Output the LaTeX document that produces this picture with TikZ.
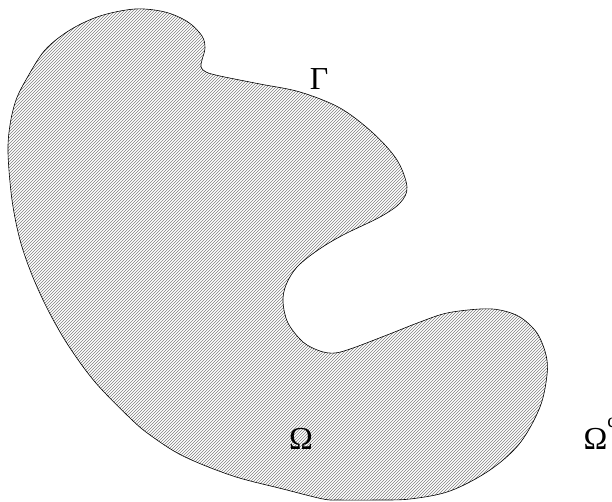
\documentclass[tikz,border=0pt]{standalone}
\usepackage{fontspec}
\setmainfont{Liberation Serif}
\usetikzlibrary{patterns}
\begin{document}
\begin{tikzpicture}[x=1pt,y=-1pt,
  region/.style={draw=black, line width=0.6pt, pattern=north east lines, pattern color=black!50},
  lbl/.style={inner sep=0pt, font=\fontsize{32}{32}\selectfont}]
\useasboundingbox (0,0) rectangle (612,501);
\draw[region] plot[smooth cycle, tension=0.55] coordinates {
  (135,9) (165,12) (188,22) (202,36) (205,48) (202,60) (201,67) (206,72) (220,76)
  (260,84) (300,92) (340,108) (373,133) (397,160) (407,187) (400,203) (380,217)
  (343,235) (318,250) (297,267) (286,285) (283,302) (288,323) (303,342) (320,351)
  (335,353) (353,348) (387,335) (420,322) (447,313) (480,309) (500,310) (520,317)
  (537,333) (546,355) (547,375) (540,407) (520,443) (490,470) (450,491) (410,499)
  (375,500) (340,500) (323,499) (283,489) (233,476) (183,456) (150,435) (130,418)
  (95,382) (68,345) (48,310) (32,275) (20,240) (12,200) (8,153) (10,125) (16,100)
  (27,78) (45,50) (70,30) (100,16)};
\node[lbl] (gamma) at (319,79) {Γ};
\node[lbl] (omega) at (301,439) {Ω};
\node[lbl, anchor=base west] (omegac) at (583.5,449) {Ω\raisebox{22pt}{\fontsize{20}{20}\selectfont c}};
\end{tikzpicture}
\end{document}
